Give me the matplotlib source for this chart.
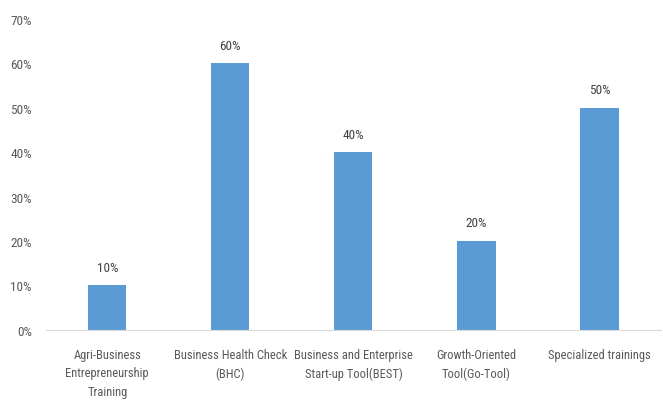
import matplotlib
matplotlib.use("Agg")
from matplotlib import pyplot as plt
from matplotlib.ticker import PercentFormatter

categories = ["Agri-Business\nEntrepreneurship\nTraining",
              "Business Health Check\n(BHC)",
              "Business and Enterprise\nStart-up Tool(BEST)",
              "Growth-Oriented\nTool(Go-Tool)",
              "Specialized trainings"]
values = [10, 60, 40, 20, 50]
labels = ["10%", "60%", "40%", "20%", "50%"]

plt.rcParams['font.family'] = ['Roboto Condensed', 'DejaVu Sans']
text_col = '#595959'

fig = plt.figure(figsize=(6.63, 4.06), dpi=100)
ax = fig.add_axes([0.069, 0.185, 0.928, 0.766])

x = range(len(values))
bars = ax.bar(x, values, width=0.31, color='#5B9BD5')
for b, lab in zip(bars, labels):
    ax.text(b.get_x() + b.get_width() / 2, b.get_height() + 2.6, lab,
            ha='center', va='bottom', fontsize=9.5, color='#404040')

ax.set_xlim(-0.5, len(values) - 0.5)
ax.set_ylim(0, 70)
ax.set_yticks(range(0, 71, 10))
ax.yaxis.set_major_formatter(PercentFormatter(decimals=0))
ax.set_xticks(list(x))
ax.set_xticklabels(categories, fontsize=9, color=text_col, linespacing=1.55)
ax.tick_params(axis='y', labelsize=9.5, labelcolor=text_col, length=0, pad=10)
ax.tick_params(axis='x', length=0, pad=13)

for s in ['top', 'right', 'left']:
    ax.spines[s].set_visible(False)
ax.spines['bottom'].set_color('#d9d9d9')

fig.savefig('out.png', dpi=100)
